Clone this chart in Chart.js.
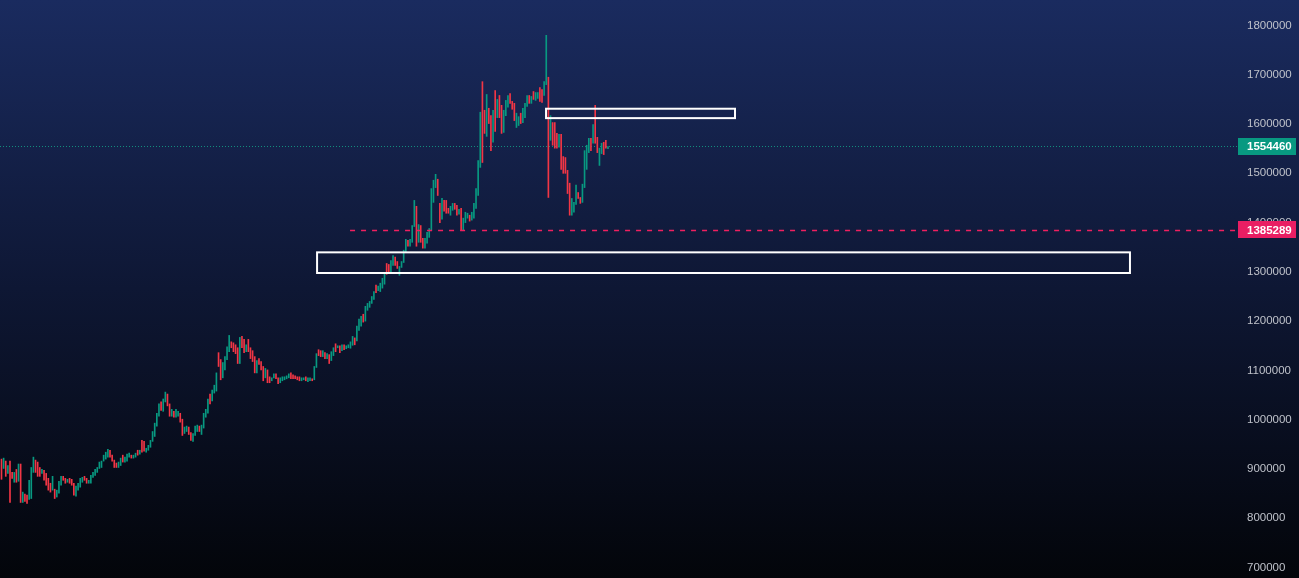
<!DOCTYPE html>
<html>
<head>
<meta charset="utf-8">
<script src="https://cdn.jsdelivr.net/npm/chart.js@4.4.1/dist/chart.umd.min.js"></script>
<style>
  html, body { margin: 0; padding: 0; width: 1299px; height: 578px; overflow: hidden;
    background: linear-gradient(to bottom, #1a2b5f 0%, #0e1734 50%, #03050a 100%); }
  #wrap { position: relative; width: 1299px; height: 578px; }
</style>
</head>
<body>
<div id="wrap"><canvas id="priceChart"></canvas></div>
<script>
// candle open / close, in thousands
const opens = [
  920,901,916,891,916,893,873,899,875,910,832,849,847,838,840,893,918,914,903,891,
  897,891,881,871,857,859,843,851,867,885,881,873,881,879,871,845,857,863,873,885,
  881,871,871,883,887,893,901,903,916,920,924,938,928,918,912,903,907,928,914,916,
  924,928,922,924,938,930,958,956,934,938,944,956,966,987,1007,1036,1017,1036,1052,1032,
  1007,1017,1005,1007,1013,1001,972,976,985,974,956,968,976,987,970,983,1005,1013,1052,1038,
  1054,1058,1136,1122,1085,1101,1122,1138,1158,1156,1152,1146,1114,1169,1163,1138,1163,1146,1140,1128,
  1095,1124,1118,1108,1085,1101,1087,1079,1085,1093,1085,1075,1079,1081,1083,1085,1095,1091,1089,1087,
  1087,1079,1081,1087,1077,1079,1083,1081,1106,1142,1140,1128,1136,1124,1132,1120,1130,1154,1146,1150,
  1140,1152,1144,1146,1145,1151,1166,1160,1181,1190,1214,1200,1222,1228,1236,1244,1273,1262,1260,1267,
  1275,1317,1315,1299,1313,1330,1321,1293,1309,1319,1340,1364,1352,1360,1392,1433,1360,1394,1368,1348,
  1358,1370,1384,1441,1471,1488,1439,1407,1445,1445,1429,1415,1425,1439,1435,1417,1429,1384,1400,1409,
  1415,1405,1409,1429,1455,1512,1686,1628,1575,1632,1617,1563,1668,1613,1658,1638,1583,1617,1634,1662,
  1646,1642,1593,1597,1622,1603,1613,1636,1658,1642,1666,1648,1652,1674,1670,1658,1680,1695,1567,1603,
  1603,1581,1553,1579,1534,1532,1506,1480,1415,1421,1437,1461,1451,1441,1471,1508,1542,1571,1561,1638,
  1573,1516,1540,1563,1567,1550
];
const closes = [
  879,922,885,907,832,881,893,873,910,832,853,834,830,877,903,924,893,885,885,899,
  877,867,857,853,885,840,857,875,885,877,871,879,871,867,847,865,871,881,883,877,
  871,877,887,893,899,903,914,916,928,934,940,924,916,903,903,914,922,914,924,930,
  932,922,928,932,928,938,934,936,942,948,958,976,993,1013,1032,1019,1042,1056,1028,1007,
  1021,1005,1021,1017,995,968,985,987,970,958,972,987,989,976,989,1013,1021,1042,1032,1060,
  1070,1095,1108,1081,1116,1128,1148,1171,1146,1138,1134,1114,1167,1146,1136,1152,1138,1124,1118,1095,
  1120,1112,1101,1079,1104,1075,1075,1085,1093,1083,1073,1085,1087,1087,1089,1093,1083,1083,1083,1081,
  1079,1085,1085,1079,1085,1085,1079,1108,1134,1130,1128,1140,1124,1134,1114,1138,1146,1138,1150,1136,
  1152,1142,1150,1152,1158,1169,1152,1190,1204,1210,1198,1230,1236,1240,1250,1260,1258,1271,1277,1287,
  1299,1295,1299,1323,1333,1313,1307,1311,1321,1344,1366,1352,1366,1394,1445,1352,1396,1360,1348,1368,
  1380,1388,1469,1486,1498,1455,1400,1449,1423,1419,1419,1433,1439,1427,1415,1427,1384,1409,1421,1419,
  1403,1421,1439,1469,1526,1624,1522,1581,1660,1601,1546,1628,1585,1650,1613,1581,1628,1648,1658,1642,
  1630,1607,1622,1615,1601,1632,1642,1658,1642,1656,1650,1664,1664,1646,1644,1686,1780,1451,1617,1557,
  1551,1551,1579,1508,1500,1500,1459,1415,1449,1441,1476,1449,1439,1478,1546,1557,1571,1546,1599,1561,
  1542,1551,1561,1538,1551,1554.46
];
const yTicks = [700000, 800000, 900000, 1000000, 1100000, 1200000, 1300000,
  1400000, 1500000, 1600000, 1700000, 1800000];
const lastPrice = 1554460;
const levelPrice = 1385289;
// zones: [fromCandle, toCandle, lowPrice, highPrice]
const zones = [
  [255.9, 344.7, 1612000, 1631100],
  [148.3, 530.3, 1297700, 1339600],
];
const levelStart = 163.8;

const UP = '#089981';
const DOWN = '#f23645';

const candles = opens.map((o, i) => ({ x: i, y: [o * 1000, closes[i] * 1000] }));
const colors = opens.map((o, i) => (closes[i] >= o ? UP : DOWN));

const overlay = {
  id: 'overlay',
  beforeDatasetsDraw(chart) {
    const { ctx, chartArea, scales: { y } } = chart;
    ctx.save();
    // last price dotted line
    ctx.strokeStyle = 'rgba(18,160,134,0.85)';
    ctx.lineWidth = 1;
    ctx.setLineDash([1, 2]);
    const py = Math.round(y.getPixelForValue(lastPrice)) + 0.5;
    ctx.beginPath();
    ctx.moveTo(chartArea.left, py);
    ctx.lineTo(chartArea.right, py);
    ctx.stroke();
    ctx.restore();
  },
  afterDatasetsDraw(chart) {
    const { ctx, chartArea, scales: { x, y } } = chart;
    ctx.save();
    // level dashed line
    ctx.strokeStyle = '#ef2060';
    ctx.lineWidth = 1.3;
    ctx.setLineDash([5, 6]);
    const ly = Math.round(y.getPixelForValue(levelPrice)) + 0.5;
    ctx.beginPath();
    ctx.moveTo(x.getPixelForValue(levelStart), ly);
    ctx.lineTo(chartArea.right, ly);
    ctx.stroke();
    ctx.setLineDash([]);
    ctx.strokeStyle = '#ffffff';
    ctx.lineWidth = 2;
    zones.forEach(([x0, x1, lo, hi]) => {
      const l = x.getPixelForValue(x0), r = x.getPixelForValue(x1);
      const t = y.getPixelForValue(hi), b = y.getPixelForValue(lo);
      ctx.strokeRect(l, t, r - l, b - t);
    });
    ctx.restore();
  },
  afterDraw(chart) {
    const { ctx, chartArea, scales: { y } } = chart;
    ctx.save();
    ctx.font = 'bold 11.5px "Liberation Sans", Arial, sans-serif';
    ctx.textBaseline = 'middle';
    ctx.textAlign = 'left';
    [[lastPrice, UP], [levelPrice, '#e91e63']].forEach(([p, c]) => {
      const cy = y.getPixelForValue(p);
      ctx.fillStyle = c;
      ctx.fillRect(chartArea.right + 1, Math.round(cy - 8.5), 58, 17);
      ctx.fillStyle = '#ffffff';
      ctx.fillText(String(p), chartArea.right + 10, cy + 0.5);
    });
    ctx.restore();
  },
};

const chart = new Chart(document.getElementById('priceChart').getContext('2d'), {
  type: 'bar',
  data: {
    datasets: [
      {
        label: 'Price',
        data: candles,
        backgroundColor: colors,
        borderWidth: 0,
        barThickness: 1,
      },
    ],
  },
  options: {
    responsive: true,
    maintainAspectRatio: false,
    animation: false,
    layout: { padding: 0 },
    scales: {
      x: {
        type: 'linear',
        display: false,
        offset: false,
        min: -0.7,
        max: 580.6,
      },
      y: {
        position: 'right',
        min: 678700,
        max: 1851750,
        grid: { display: false, drawTicks: false },
        border: { display: false },
        ticks: {
          color: '#bfc2ca',
          padding: 10,
          font: { family: '"Liberation Sans", Arial, sans-serif', size: 11.5 },
          callback: v => String(v),
        },
        afterBuildTicks: s => { s.ticks = yTicks.map(v => ({ value: v })); },
        afterFit: s => {
          s.width = 62;
          s.paddingTop = 0;
          s.paddingBottom = 0;
        },
      },
    },
    plugins: {
      legend: false,
      tooltip: { enabled: false },
    },
  },
  plugins: [overlay],
});
</script>
</body>
</html>
